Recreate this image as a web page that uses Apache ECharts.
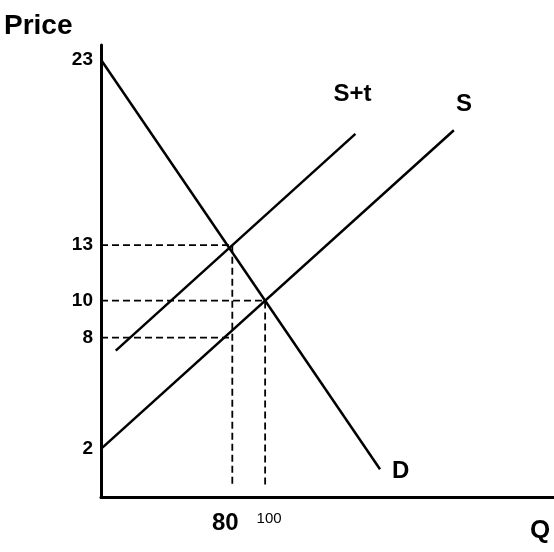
<!DOCTYPE html>
<html><head><meta charset="utf-8">
<script src="https://cdn.jsdelivr.net/npm/echarts@6/dist/echarts.min.js"></script>
<style>html,body{margin:0;background:#fff}#c{width:554px;height:552px}</style>
</head><body><div id="c"></div>
<script>
var demand = [[0, 23], [170, 0.9]];
var supply = [[0, 2], [215, 19.2]];
var supplyTax = [[9, 7.3], [155, 19]];
var priceTicks = [23, 13, 10, 8, 2];
var qtyTicks = [80, 100];
var guides = [
    [[0, 13], [80, 13], [80, 0]],
    [[0, 10], [100, 10], [100, 0]],
    [[0, 8], [80, 8]]
];

function line(data, name, pos) {
    return {
        type: 'line', data: data, symbol: 'none', silent: true,
        lineStyle: {color: '#000', width: 2.5},
        endLabel: {show: true, formatter: name, color: '#000', fontSize: 24, fontWeight: 'bold',
            fontFamily: 'Liberation Sans', offset: pos}
    };
}
var series = [
    line(demand, 'D', [4, 2]),
    line(supply, 'S', [-6, -26]),
    line(supplyTax, 'S+t', [-30, -40])
];
guides.forEach(function (g) {
    series.push({type: 'line', data: g, symbol: 'none', silent: true,
        lineStyle: {color: '#000', width: 1.8, type: [7, 4]}});
});

var chart = echarts.init(document.getElementById('c'));
chart.setOption({
    animation: false,
    grid: {left: 101, right: 0, top: 45, bottom: 55},
    xAxis: {
        type: 'value', min: 0, max: 276,
        splitLine: {show: false}, axisTick: {show: false},
        axisLine: {onZero: false, lineStyle: {color: '#000', width: 3}},
        axisLabel: {
            customValues: qtyTicks, margin: 14,
            formatter: function (v) { return v === 80 ? '{a|80}' : '{b|100}'; },
            rich: {
                a: {fontSize: 24, fontWeight: 'bold', fontFamily: 'Liberation Sans', color: '#000', padding: [0, 14, 0, 0]},
                b: {fontSize: 15, fontFamily: 'Liberation Sans', color: '#000', padding: [0, 0, 26, 8]}
            }
        }
    },
    yAxis: {
        type: 'value', min: -0.6, max: 23.8,
        splitLine: {show: false}, axisTick: {show: false},
        axisLine: {onZero: false, lineStyle: {color: '#000', width: 3}},
        axisLabel: {customValues: priceTicks, color: '#000', fontSize: 19, fontWeight: 'bold',
            fontFamily: 'Liberation Sans', margin: 8}
    },
    graphic: [
        {type: 'text', left: 4, top: 12, style: {text: 'Price', fontSize: 28, fontWeight: 'bold',
            fontFamily: 'Liberation Sans', fill: '#000'}},
        {type: 'text', left: 530, top: 518, style: {text: 'Q', fontSize: 26, fontWeight: 'bold',
            fontFamily: 'Liberation Sans', fill: '#000'}}
    ],
    series: series
});
</script></body></html>
